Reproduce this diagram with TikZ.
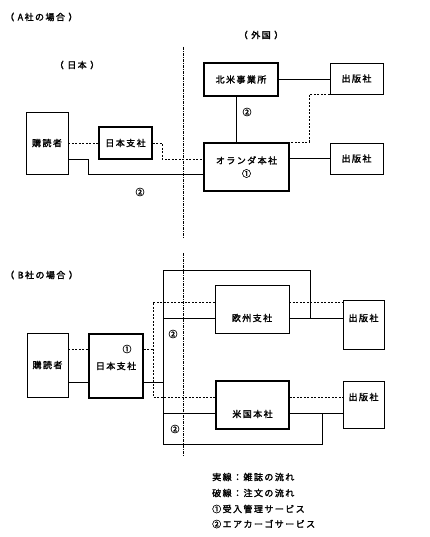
\documentclass[tikz,border=0pt]{standalone}
\usepackage{fontspec}
\newfontfamily\jp{Noto Sans CJK JP}[FakeBold=2,LetterSpace=16]
\usetikzlibrary{calc}
\newcommand{\pgap}{\hspace{3.5pt}}
\tikzset{
  box/.style={draw, line width=0.8pt, inner sep=0pt, font=\jp\fontsize{9}{10}\selectfont},
  heavybox/.style={box, line width=1.6pt},
  txt/.style={inner sep=0pt, font=\jp\fontsize{9}{10}\selectfont},
  solidflow/.style={line width=0.7pt},
  orderflow/.style={line width=0.7pt, dash pattern=on 2pt off 1.5pt},
  border/.style={line width=1pt, dash pattern=on 3pt off 1pt on 1pt off 1pt}
}
\begin{document}
\begin{tikzpicture}[x=1pt, y=-1pt]
  \useasboundingbox (0,0) rectangle (430,537);
  % Case A
  \node[txt, anchor=west] (titleA) at (5,17) {（\pgap A社の場合\pgap）};
  \node[txt] (abroadA) at (261,35) {（\pgap 外国\pgap）};
  \node[txt] (homeA) at (77,65) {（\pgap 日本\pgap）};
  \draw[border] (183,47) -- (183,238);
  \node[box, minimum width=42, minimum height=62] (rdrA) at (47,143) {購読者};
  \node[heavybox, minimum width=53, minimum height=32] (jpA) at (125.5,143) {日本支社};
  \node[heavybox, minimum width=74, minimum height=33] (naA) at (241,79.5) {北米事業所};
  \node[box, minimum width=53, minimum height=31] (pubA1) at (356.5,78.5) {出版社};
  \node[heavybox, minimum width=85, minimum height=48, align=center] (hqA) at (246.5,167) {オランダ本社\\[3pt]①};
  \node[box, minimum width=53, minimum height=31] (pubA2) at (356.5,158.5) {出版社};
  \node[txt] (airA1) at (140,192) {②};
  \node[txt] (airA2) at (247,112) {②};
  \coordinate (ordA) at (162,143);
  \coordinate (busA) at (88,174);
  \coordinate (ordA2) at (309,142);
  \draw[orderflow] (rdrA.east) -- (jpA.west);
  \draw[orderflow] (jpA.east) -- (ordA) |- (hqA.west |- 0,159);
  \draw[solidflow] (rdrA.east |- 0,159) -| (busA) -- (hqA.west |- 0,174);
  \draw[solidflow] (naA.east) -- (naA.east -| pubA1.west);
  \draw[solidflow] (naA.south -| 236,0) -- (hqA.north -| 236,0);
  \draw[orderflow] (pubA1.south west) -| (ordA2) -- (ordA2 -| hqA.north east);
  \draw[solidflow] (hqA.east |- pubA2.west) -- (pubA2.west);

  % Case B
  \node[txt, anchor=west] (titleB) at (5,275) {（\pgap B社の場合\pgap）};
  \draw[border] (183,253) -- (183,456);
  \node[box, minimum width=41, minimum height=64] (rdrB) at (47.5,365) {購読者};
  \node[heavybox, minimum width=54, minimum height=64] (jpB) at (116,366) {日本支社};
  \node[txt] (recvB) at (127,349) {①};
  \node[box, minimum width=74, minimum height=48] (euB) at (252,309) {};
  \node[txt] (euBt) at (252,318) {欧州支社};
  \node[heavybox, minimum width=73, minimum height=48] (usB) at (252.5,405) {};
  \node[txt] (usBt) at (252.5,414) {米国本社};
  \node[box, minimum width=41, minimum height=49] (pubB1) at (363.5,324.5) {};
  \node[txt] (pubB1t) at (363.5,318) {出版社};
  \node[box, minimum width=41, minimum height=47] (pubB2) at (363.5,404.5) {};
  \node[txt] (pubB2t) at (363.5,397) {出版社};
  \node[txt] (airB1) at (173,334) {②};
  \node[txt] (airB2) at (175,429) {②};
  \coordinate (ordB) at (153,349);
  \coordinate (busB) at (163,382);
  % orders
  \draw[orderflow] (rdrB.east |- ordB) -- (jpB.west |- ordB);
  \draw[orderflow] (jpB.east |- ordB) -- (ordB);
  \draw[orderflow] (euB.west |- 0,302) -| (153,397) -- (usB.west |- 0,397);
  \draw[orderflow] (euB.east |- 0,302) -- (pubB1.west |- 0,302);
  \draw[orderflow] (usB.east |- 0,397) -- (pubB2.west |- 0,397);
  % magazines
  \draw[solidflow] (rdrB.east |- busB) -- (jpB.west |- busB);
  \draw[solidflow] (jpB.east |- busB) -- (busB);
  \draw[solidflow] (euB.east |- 0,318) -- (pubB1.west |- 0,318);
  \draw[solidflow] (310,318) |- (163,270) |- (322,444) -- (322,413);
  \draw[solidflow] (163,318) -- (euB.west |- 0,318);
  \draw[solidflow] (163,413) -- (usB.west |- 0,413);
  \draw[solidflow] (usB.east |- 0,413) -- (pubB2.west |- 0,413);

  % Key
  \node[txt, anchor=west] (key1) at (212,477) {実線：雑誌の流れ};
  \node[txt, anchor=west] (key2) at (212,493) {破線：注文の流れ};
  \node[txt, anchor=west] (key3) at (212,509) {①受入管理サービス};
  \node[txt, anchor=west] (key4) at (212,524) {②エアカーゴサービス};
\end{tikzpicture}
\end{document}
